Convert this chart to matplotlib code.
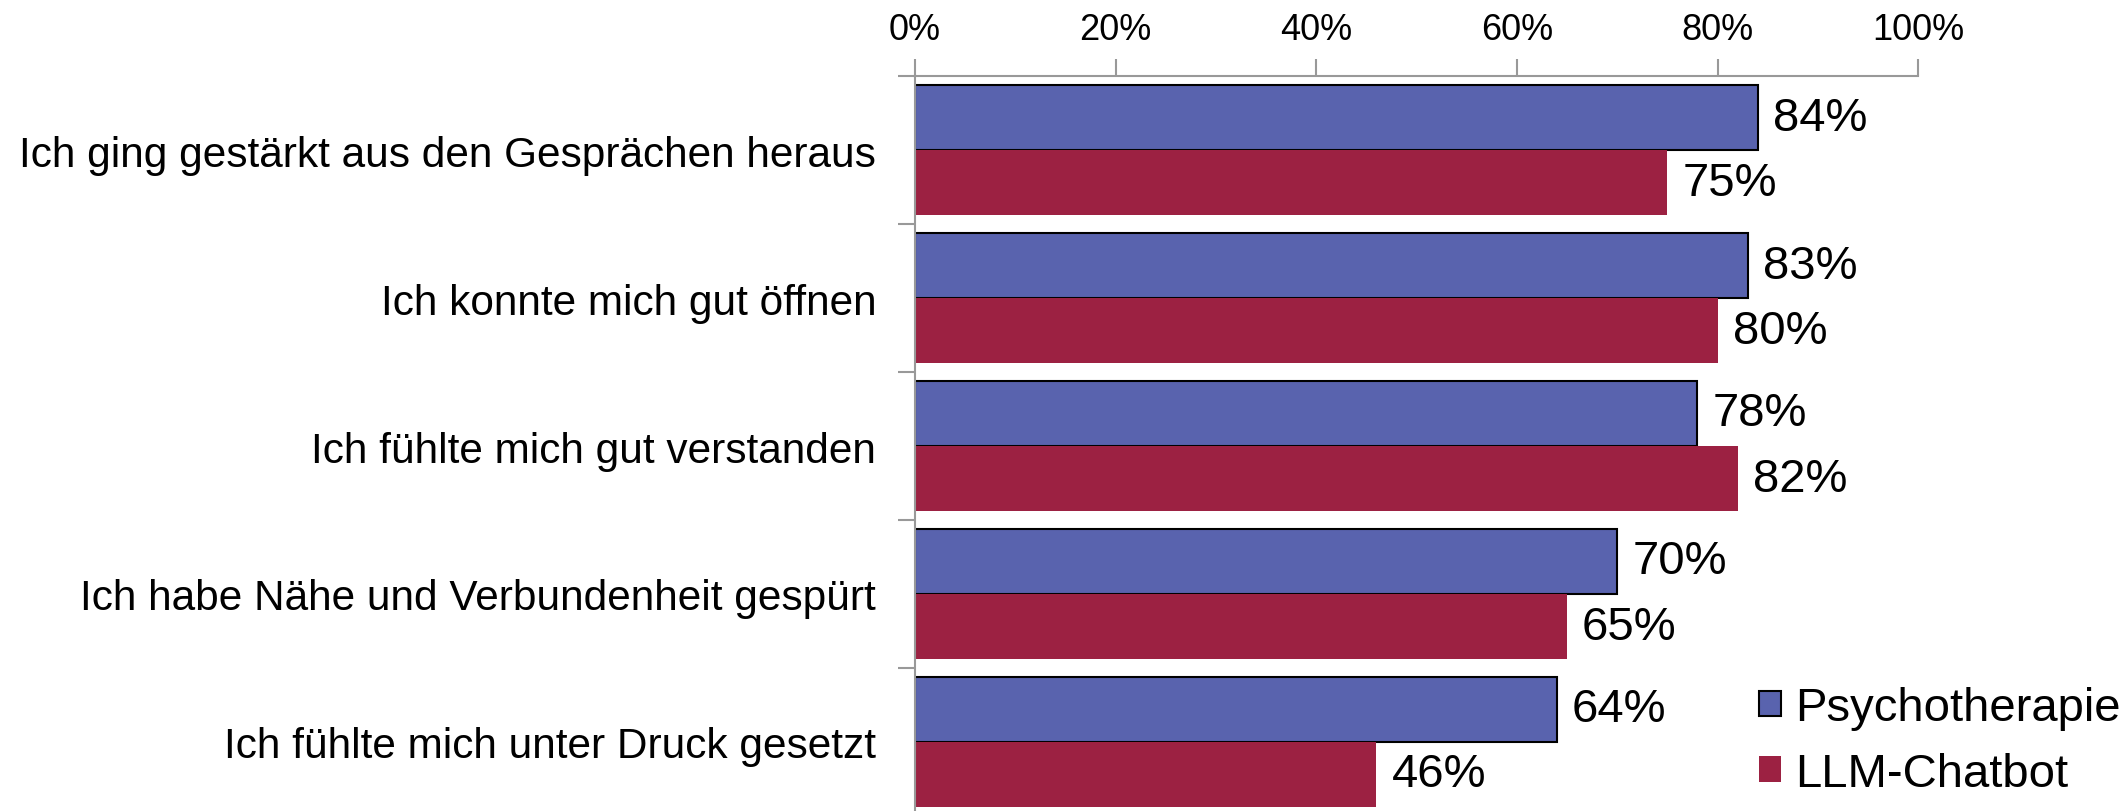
import numpy as np
import matplotlib
matplotlib.use('Agg')
import matplotlib.pyplot as plt
from matplotlib.patches import Patch

plt.rcParams['font.family'] = ['Liberation Sans', 'DejaVu Sans']

# Daten
kategorien = ['Ich ging gestärkt aus den Gesprächen heraus',
              'Ich konnte mich gut öffnen',
              'Ich fühlte mich gut verstanden',
              'Ich habe Nähe und Verbundenheit gespürt',
              'Ich fühlte mich unter Druck gesetzt']
psychotherapie = [84, 83, 78, 70, 64]
chatbot = [75, 80, 82, 65, 46]
xticks = [0, 20, 40, 60, 80, 100]

blau = '#5963AE'
rot = '#9C2142'
grau = '#999999'

fig = plt.figure(figsize=(21.27, 8.12), dpi=100)
ax = fig.add_axes([0.4302, -0.006, 0.4716, 0.911])

y = np.arange(len(kategorien))
h = 0.44
ax.barh(y - h / 2, psychotherapie, height=h, color=blau, edgecolor='black', linewidth=1.5)
ax.barh(y + h / 2, chatbot, height=h, color=rot, edgecolor='none')

# Werte an die Balken schreiben
for i, v in enumerate(psychotherapie):
    ax.text(v + 1.5, i - h / 2, f'{v}%', va='center', ha='left', fontsize=34)
for i, v in enumerate(chatbot):
    ax.text(v + 1.5, i + h / 2, f'{v}%', va='center', ha='left', fontsize=34)

ax.set_xlim(0, 100)
ax.set_ylim(len(kategorien) - 0.5, -0.5)
ax.xaxis.tick_top()
ax.set_xticks(xticks)
ax.set_xticklabels([f'{t}%' for t in xticks], fontsize=26)
ax.tick_params(axis='x', length=12, width=1.5, color=grau, pad=9)

# Kategorien als Text, Striche an den Gruppengrenzen
ax.set_yticks(y)
ax.set_yticklabels(kategorien, fontsize=30.5)
ax.tick_params(axis='y', length=0, pad=28)
ax.set_yticks(np.arange(len(kategorien) + 1) - 0.5, minor=True)
ax.tick_params(axis='y', which='minor', length=12, width=1.5, color=grau)

for s in ['right', 'bottom']:
    ax.spines[s].set_visible(False)
for s in ['left', 'top']:
    ax.spines[s].set_color(grau)
    ax.spines[s].set_linewidth(1.5)

handles = [Patch(facecolor=blau, edgecolor='black', linewidth=1.5, label='Psychotherapie'),
           Patch(facecolor=rot, edgecolor='none', label='LLM-Chatbot')]
fig.legend(handles=handles, loc='lower right', bbox_to_anchor=(1.008, -0.01),
           frameon=False, fontsize=34, handlelength=0.46, handleheight=0.46,
           handletextpad=0.3, labelspacing=0.45, borderaxespad=0.1)

fig.savefig('out.png', dpi=100)
